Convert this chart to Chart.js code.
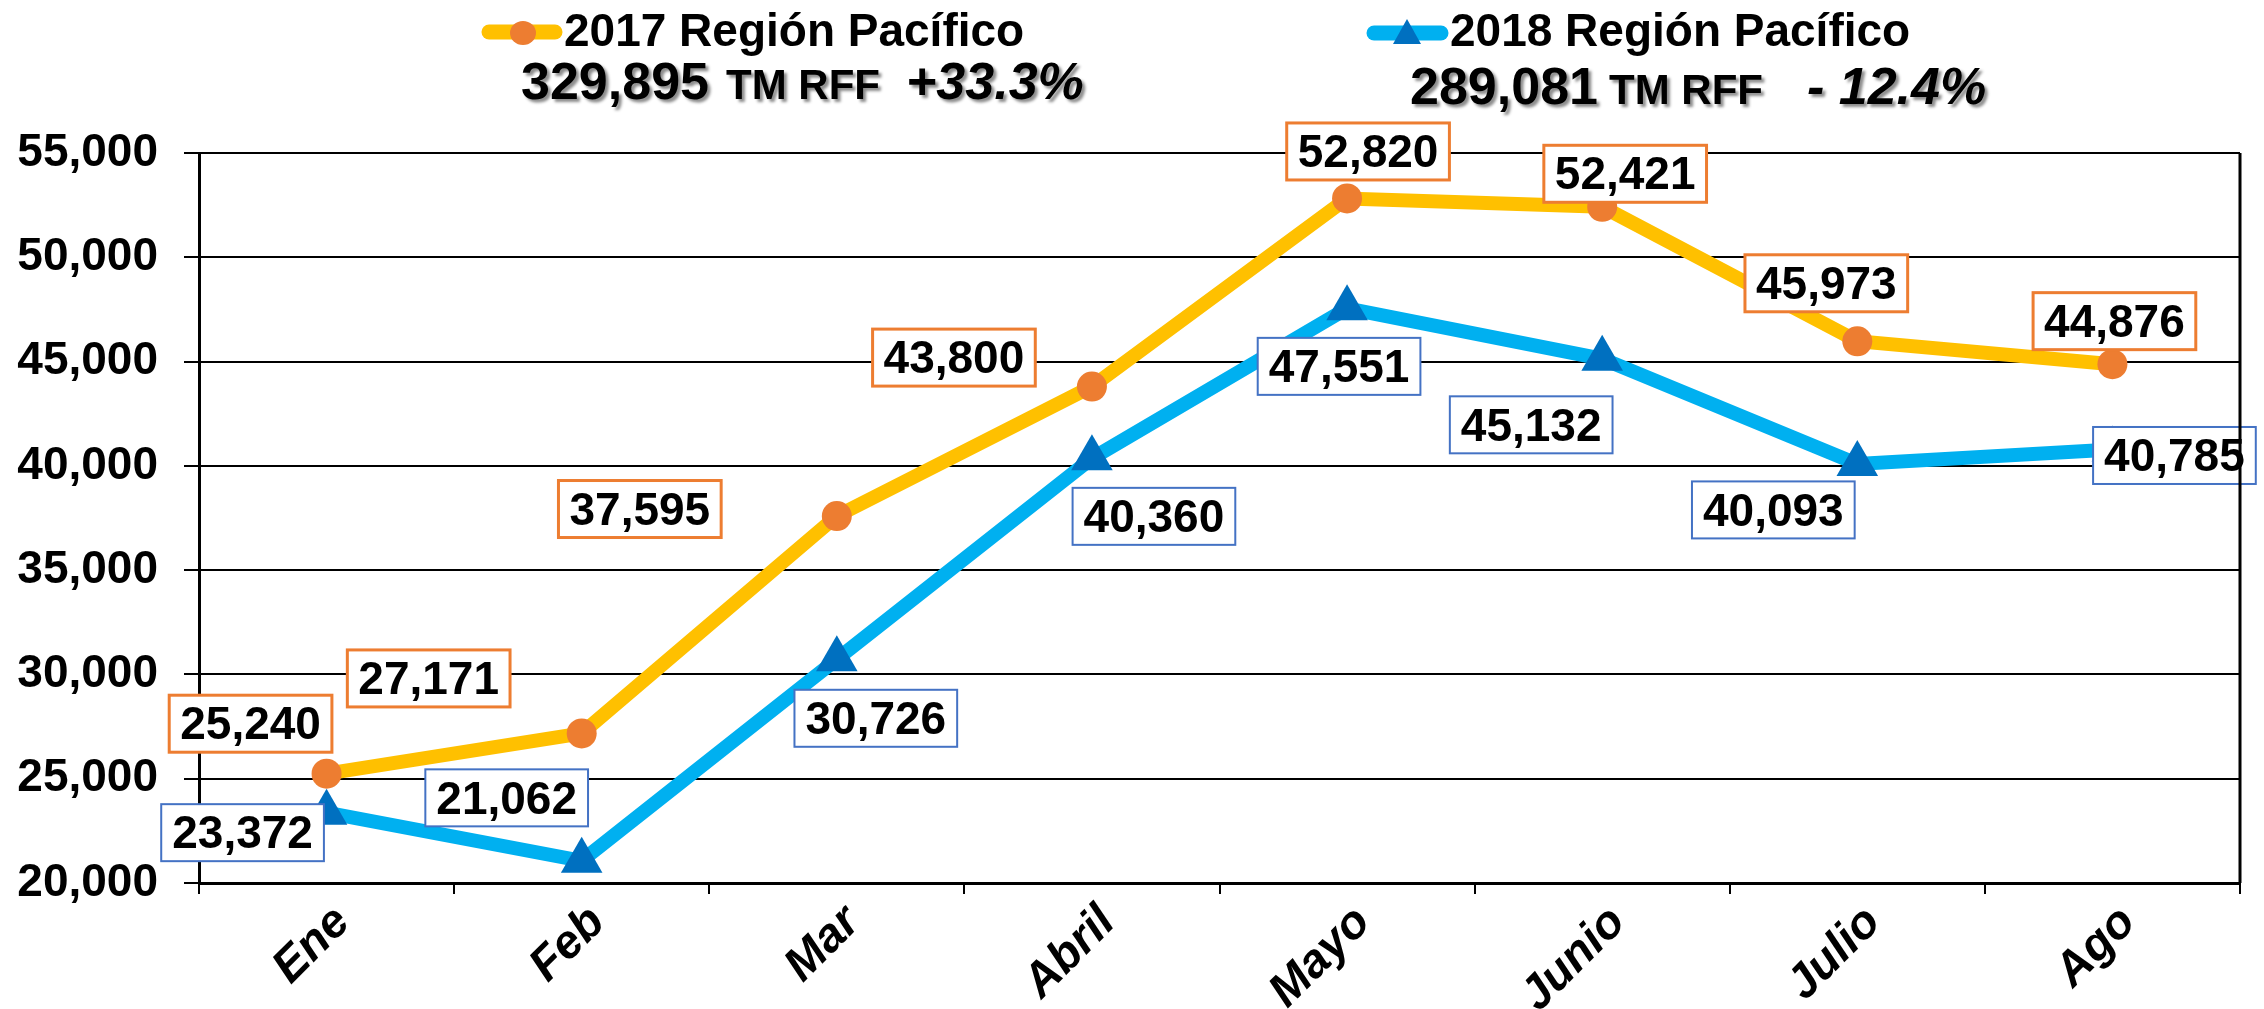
<!DOCTYPE html>
<html>
<head>
<meta charset="utf-8">
<script src="https://cdn.jsdelivr.net/npm/chart.js@4.4.0/dist/chart.umd.min.js"></script>
<style>
  html, body { margin: 0; padding: 0; background: #fff; }
  #wrap { width: 2264px; height: 1009px; }
</style>
</head>
<body>
<div id="wrap"><canvas id="chart" width="2264" height="1009"></canvas></div>
<script>
// chart data
const months = ['Ene', 'Feb', 'Mar', 'Abril', 'Mayo', 'Junio', 'Julio', 'Ago'];
const values2017 = [25240, 27171, 37595, 43800, 52820, 52421, 45973, 44876];
const values2018 = [23372, 21062, 30726, 40360, 47551, 45132, 40093, 40785];
const seriesNames = ['2017 Región Pacífico', '2018 Región Pacífico'];
const seriesTotals = ['329,895', '289,081'];
const seriesChange = ['+33.3%', '- 12.4%'];
const totalUnit = 'TM RFF';

// where each value box sits relative to its point (px)
const labelOffsets2017 = [[-76, -50], [-153, -55], [-197, -7], [-138, -29], [21, -47], [23, -33], [-31, -58], [2, -43]];
const labelOffsets2018 = [[-84, 20], [-75, -63], [39, 59], [62, 58], [-8, 58], [-71, 66], [-84, 46], [62, 6]];

const FONT = '"Liberation Sans", Arial, sans-serif';
const yellow = '#FFC000', orange = '#ED7D31';
const cyan = '#00B0F0', darkBlue = '#0070C0', boxBlue = '#4472C4';

const fmt = v => Number(v).toLocaleString('en-US');

// boxed value labels
const valueBoxes = {
  id: 'valueBoxes',
  afterDatasetsDraw(chart) {
    const ctx = chart.ctx;
    const offsets = [labelOffsets2017, labelOffsets2018];
    const borders = [orange, boxBlue];
    const widths = [3, 2];
    ctx.save();
    ctx.font = 'bold 46px ' + FONT;
    ctx.textAlign = 'center';
    ctx.textBaseline = 'middle';
    chart.data.datasets.forEach((ds, di) => {
      const meta = chart.getDatasetMeta(di);
      meta.data.forEach((pt, i) => {
        const txt = fmt(ds.data[i]);
        const cx = pt.x + offsets[di][i][0];
        const cy = pt.y + offsets[di][i][1];
        const w = ctx.measureText(txt).width + 22;
        const h = 57;
        ctx.fillStyle = '#fff';
        ctx.fillRect(cx - w / 2, cy - h / 2, w, h);
        ctx.strokeStyle = borders[di];
        ctx.lineWidth = widths[di];
        ctx.strokeRect(cx - w / 2, cy - h / 2, w, h);
        ctx.fillStyle = '#000';
        ctx.fillText(txt, cx, cy + 3);
      });
    });
    ctx.restore();
  }
};

// legend with totals on top, plus right frame line
const topLegend = {
  id: 'topLegend',
  afterDraw(chart) {
    const ctx = chart.ctx;
    const area = chart.chartArea;
    ctx.save();
    ctx.strokeStyle = '#000';
    ctx.lineWidth = 3;
    ctx.beginPath();
    ctx.moveTo(area.right, area.top);
    ctx.lineTo(area.right, area.bottom);
    ctx.stroke();

    // symbols
    ctx.lineCap = 'round';
    ctx.lineWidth = 15;
    ctx.strokeStyle = yellow;
    ctx.beginPath(); ctx.moveTo(489, 32); ctx.lineTo(555, 32); ctx.stroke();
    ctx.fillStyle = orange;
    ctx.beginPath(); ctx.ellipse(523, 33, 13, 12, 0, 0, Math.PI * 2); ctx.fill();

    ctx.strokeStyle = cyan;
    ctx.beginPath(); ctx.moveTo(1374, 33); ctx.lineTo(1441, 33); ctx.stroke();
    ctx.fillStyle = darkBlue;
    ctx.beginPath(); ctx.moveTo(1407, 19); ctx.lineTo(1421, 44); ctx.lineTo(1393, 44); ctx.closePath(); ctx.fill();

    // titles
    ctx.fillStyle = '#000';
    ctx.textBaseline = 'alphabetic';
    ctx.textAlign = 'left';
    ctx.font = 'bold 46px ' + FONT;
    ctx.fillText(chart.data.datasets[0].label, 564, 46);
    ctx.fillText(chart.data.datasets[1].label, 1450, 46);

    // totals with shadow
    ctx.shadowColor = 'rgba(0,0,0,0.45)';
    ctx.shadowOffsetX = 3;
    ctx.shadowOffsetY = 3;
    ctx.shadowBlur = 3;
    const rows = [
      { x: [521, 726, 906], y: 99 },
      { x: [1410, 1609, 1807], y: 104 }
    ];
    rows.forEach((r, i) => {
      ctx.font = 'bold 52px ' + FONT;
      ctx.fillText(seriesTotals[i], r.x[0], r.y);
      ctx.font = 'bold 42px ' + FONT;
      ctx.fillText(totalUnit, r.x[1], r.y);
      ctx.font = 'italic bold 52px ' + FONT;
      ctx.fillText(seriesChange[i], r.x[2], r.y);
    });
    ctx.restore();
  }
};

const ctx = document.getElementById('chart').getContext('2d');
new Chart(ctx, {
  type: 'line',
  data: {
    labels: months,
    datasets: [
      {
        label: seriesNames[0],
        data: values2017,
        borderColor: yellow,
        borderWidth: 14,
        pointStyle: 'circle',
        pointRadius: 15,
        pointBackgroundColor: orange,
        pointBorderWidth: 0,
        tension: 0
      },
      {
        label: seriesNames[1],
        data: values2018,
        borderColor: cyan,
        borderWidth: 14,
        pointStyle: 'triangle',
        pointRadius: 24,
        pointBackgroundColor: darkBlue,
        pointBorderWidth: 0,
        tension: 0
      }
    ]
  },
  options: {
    responsive: false,
    animation: false,
    layout: { padding: { top: 153, right: 16, left: 0, bottom: 0 } },
    plugins: {
      legend: { display: false },
      tooltip: { enabled: false }
    },
    scales: {
      x: {
        offset: true,
        grid: { offset: true, drawOnChartArea: false, drawTicks: true, tickLength: 11, color: '#000', lineWidth: 2 },
        border: { color: '#000', width: 3 },
        ticks: {
          maxRotation: 45,
          minRotation: 45,
          padding: 1,
          labelOffset: 16,
          color: '#000',
          font: { family: FONT, size: 47, weight: 'bold', style: 'italic' }
        },
        afterFit(scale) { scale.height = 126; }
      },
      y: {
        min: 20000,
        max: 55000,
        grid: { color: '#000', lineWidth: 2, tickLength: 15 },
        border: { color: '#000', width: 3 },
        ticks: {
          stepSize: 5000,
          padding: 26,
          color: '#000',
          font: { family: FONT, size: 46, weight: 'bold' },
          callback: v => fmt(v)
        },
        afterFit(scale) { scale.width = 199; }
      }
    }
  },
  plugins: [valueBoxes, topLegend]
});
</script>
</body>
</html>
